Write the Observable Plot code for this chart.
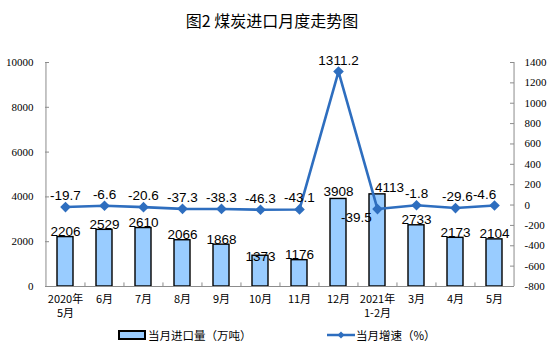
<!DOCTYPE html>
<html>
<head>
<meta charset="utf-8">
<script src="https://cdn.jsdelivr.net/npm/d3@7"></script>
<script src="https://cdn.jsdelivr.net/npm/@observablehq/plot@0.6"></script>
<style>
  html, body { margin: 0; padding: 0; background: #fff; }
  #wrap { position: relative; width: 554px; height: 353px; overflow: hidden; }
  #title { position: absolute; top: 9px; left: 0; width: 544px; text-align: center;
    font-family: "Noto Sans CJK SC", sans-serif; font-size: 16px; color: #000; line-height: 22px; white-space: pre; }
  #chart { position: absolute; top: 40px; left: 0; }
  #legend { position: absolute; top: 326px; left: 0; width: 554px; height: 18px;
    font-family: "Noto Sans CJK SC", sans-serif; font-size: 11.5px; color: #000; }
  .item { position: absolute; top: 0; display: flex; align-items: center; height: 18px; }
  .sw-bar { width: 24px; height: 6px; background: #99CCFF; border: 2px solid #000; margin-right: 2px; }
  .sw-line { width: 28px; height: 18px; margin-right: 1px; }
</style>
</head>
<body>
<div id="wrap">
  <div id="title">图2 煤炭进口月度走势图</div>
  <div id="chart"></div>
  <div id="legend">
    <div class="item" style="left:118px"><div class="sw-bar"></div><span>当月进口量（万吨）</span></div>
    <div class="item" style="left:327px"><svg class="sw-line" viewBox="0 0 28 18"><line x1="0" y1="9" x2="28" y2="9" stroke="#2E6EBF" stroke-width="2.5"/><path d="M14,5.5L17.5,9L14,12.5L10.5,9Z" fill="#2E6EBF"/></svg><span>当月增速（%）</span></div>
  </div>
</div>
<script>
const categories = ["2020年\n5月", "6月", "7月", "8月", "9月", "10月", "11月", "12月", "2021年\n1-2月", "3月", "4月", "5月"];
const imports = [2206, 2529, 2610, 2066, 1868, 1373, 1176, 3908, 4113, 2733, 2173, 2104];
const growth = [-19.7, -6.6, -20.6, -37.3, -38.3, -46.3, -43.1, 1311.2, -39.5, -1.8, -29.6, -4.6];
const leftTicks = [0, 2000, 4000, 6000, 8000, 10000];
const rightTicks = [-800, -600, -400, -200, 0, 200, 400, 600, 800, 1000, 1200, 1400];

const L_MAX = 10000, R_MIN = -800, R_MAX = 1400;
const toL = v => (v - R_MIN) / (R_MAX - R_MIN) * L_MAX;
const fromL = v => Math.round(v / L_MAX * (R_MAX - R_MIN) + R_MIN);

const data = categories.map((c, i) => ({cat: c, value: imports[i], growth: growth[i]}));

// label nudges (style, not data)
const barNudge = {"10月": [0, 6], "2021年\n1-2月": [12, -1], "12月": [0, -2]};
const lineNudge = {"2021年\n1-2月": [-21, 20], "4月": [2, 0], "5月": [-10, 0]};

const W = 554, H = 275, mL = 45, mR = 40, mT = 22, mB = 29;
const plotW = W - mL - mR;
const step = plotW / categories.length;
const blue = "#2E6EBF";
const axisGrey = "#8c8c8c";

const marks = [];
marks.push(Plot.barY(data, {x: "cat", y: "value", fill: "#99CCFF", stroke: "#000", strokeWidth: 1.4}));
marks.push(Plot.ruleY([0], {stroke: axisGrey, strokeWidth: 1}));
marks.push(Plot.ruleX([categories[0]], {stroke: axisGrey, dx: -step / 2, y1: 0, y2: L_MAX}));
marks.push(Plot.ruleX([categories[categories.length - 1]], {stroke: axisGrey, dx: step / 2, y1: 0, y2: L_MAX}));
marks.push(Plot.ruleX(categories.slice(1), {stroke: axisGrey, dx: -step / 2, y1: 0, y2: 160}));
marks.push(Plot.ruleY(leftTicks, {stroke: axisGrey, insetRight: plotW - 4}));
marks.push(Plot.ruleY(rightTicks.map(toL), {stroke: axisGrey, insetLeft: plotW - 4}));
marks.push(Plot.axisY({anchor: "left", ticks: leftTicks, tickSize: 0, tickPadding: 12,
  tickFormat: d => String(d), fontSize: 11, fontFamily: "Liberation Serif", label: null}));
marks.push(Plot.axisY({anchor: "right", ticks: rightTicks.map(toL), tickSize: 0, tickPadding: 10,
  tickFormat: d => String(fromL(d)), fontSize: 11, fontFamily: "Liberation Serif", label: null}));
marks.push(Plot.axisX({tickSize: 0, tickPadding: 6, fontSize: 11, lineHeight: 1.3,
  fontFamily: "Noto Sans CJK SC", label: null}));
marks.push(Plot.line(data, {x: "cat", y: d => toL(d.growth), stroke: blue, strokeWidth: 2.6}));
marks.push(Plot.dot(data, {x: "cat", y: d => toL(d.growth), symbol: "diamond2", r: 4.8, fill: blue, stroke: "none"}));
data.forEach(d => {
  const [dx, dy] = barNudge[d.cat] || [0, 0];
  marks.push(Plot.text([d], {x: "cat", y: "value", text: d => String(d.value), lineAnchor: "bottom",
    dx, dy: dy - 1, fontSize: 13.5, fontFamily: "Liberation Sans", fill: "#000"}));
});
data.forEach(d => {
  const [dx, dy] = lineNudge[d.cat] || [0, 0];
  marks.push(Plot.text([d], {x: "cat", y: d => toL(d.growth), text: d => String(d.growth), lineAnchor: "bottom",
    dx, dy: dy - 7, fontSize: 13.5, fontFamily: "Liberation Sans", fill: "#000"}));
});

const chart = Plot.plot({
  width: W, height: H,
  marginLeft: mL, marginRight: mR, marginTop: mT, marginBottom: mB,
  style: {fontFamily: "Liberation Serif", fontSize: "11px", color: "#000", background: "transparent", overflow: "visible"},
  x: {domain: categories, paddingInner: 0.6, paddingOuter: 0.3, axis: null},
  y: {domain: [0, L_MAX], axis: null},
  marks
});
document.getElementById("chart").appendChild(chart);
</script>
</body>
</html>
